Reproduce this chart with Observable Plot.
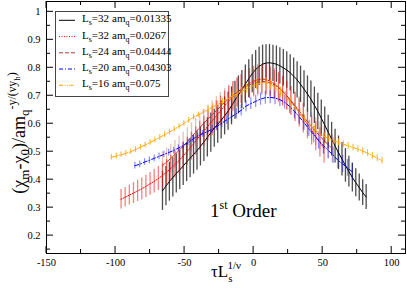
<!DOCTYPE html>
<html><head><meta charset="utf-8">
<script src="https://cdn.jsdelivr.net/npm/d3@7"></script>
<script src="https://cdn.jsdelivr.net/npm/@observablehq/plot@0.6"></script>
<style>body{margin:0;background:#fff}svg{display:block}svg text{font-family:"Liberation Serif",serif !important}</style>
</head><body><div id="chart"></div>
<script>
// ---- data ----
const blackX = [-66,-63.5,-61,-58.5,-56,-53.5,-51,-48.5,-46,-43.5,-41,-38.5,-36,-33.5,-31,-28.5,-26,-23.5,-21,-18.5,-16,-13.5,-11,-8.5,-6,-3.5,-1,1.5,4,6.5,9,11.5,14,16.5,19,21.5,24,26.5,29,31.5,34,36.5,39,41.5,44,46.5,49,51.5,54,56.5,59,61.5,64,66.5,69,71.5,74,76.5,79,81.5];
const blackY = [0.360,0.377,0.393,0.408,0.422,0.435,0.449,0.463,0.477,0.490,0.504,0.519,0.535,0.551,0.568,0.584,0.598,0.613,0.628,0.645,0.664,0.684,0.703,0.722,0.742,0.761,0.779,0.794,0.805,0.813,0.817,0.818,0.816,0.813,0.807,0.800,0.792,0.782,0.770,0.757,0.741,0.724,0.706,0.688,0.666,0.644,0.620,0.595,0.570,0.545,0.520,0.496,0.473,0.451,0.429,0.408,0.389,0.372,0.354,0.338];
const blackErr = [0.07,0.07,0.07,0.07,0.07,0.07,0.07,0.07,0.07,0.07,0.07,0.07,0.07,0.07,0.07,0.068,0.068,0.068,0.068,0.068,0.068,0.068,0.068,0.068,0.068,0.068,0.068,0.068,0.068,0.068,0.065,0.065,0.065,0.065,0.065,0.065,0.065,0.065,0.065,0.065,0.065,0.065,0.065,0.065,0.065,0.065,0.065,0.065,0.06,0.06,0.06,0.06,0.06,0.06,0.055,0.052,0.05,0.048,0.046,0.045];

const redX = [-96,-93,-90,-87,-84,-81,-78,-75,-72,-69,-66,-63,-60,-57,-54,-51,-48,-45,-42,-39,-36,-33,-30,-27,-24,-21,-18,-15,-12,-9,-6,-3,0,3,6,9,12,15,18,21,24,27,30,33,36,39,42,45,48,51];
const redY = [0.330,0.337,0.345,0.352,0.360,0.367,0.376,0.385,0.394,0.404,0.415,0.427,0.440,0.454,0.469,0.485,0.502,0.520,0.538,0.556,0.574,0.592,0.610,0.628,0.646,0.664,0.681,0.697,0.711,0.724,0.736,0.745,0.752,0.757,0.760,0.758,0.752,0.743,0.731,0.716,0.700,0.681,0.660,0.640,0.619,0.598,0.576,0.555,0.533,0.512];
const redErr = [0.035,0.035,0.036,0.037,0.038,0.039,0.04,0.041,0.042,0.043,0.044,0.045,0.046,0.047,0.048,0.049,0.05,0.05,0.051,0.052,0.053,0.053,0.053,0.053,0.053,0.053,0.053,0.053,0.053,0.053,0.053,0.053,0.053,0.053,0.053,0.053,0.053,0.053,0.053,0.053,0.052,0.052,0.052,0.052,0.052,0.052,0.052,0.052,0.052,0.052];

const brownX = [-66,-63,-60,-57,-54,-51,-48,-45,-42,-39,-36,-33,-30,-27,-24,-21,-18,-15,-12,-9,-6,-3,0,3,6,9,12,15,18,21,24,27,30,33,36,39,42,45,48,51,54,57];
const brownY = [0.450,0.463,0.476,0.490,0.505,0.520,0.536,0.553,0.570,0.586,0.602,0.617,0.632,0.647,0.662,0.676,0.689,0.701,0.712,0.722,0.731,0.739,0.745,0.749,0.751,0.750,0.746,0.739,0.729,0.716,0.700,0.683,0.665,0.646,0.627,0.607,0.589,0.572,0.556,0.540,0.525,0.511];
const brownErr = [0.05,0.05,0.05,0.05,0.05,0.05,0.05,0.05,0.05,0.05,0.05,0.05,0.05,0.05,0.05,0.05,0.05,0.05,0.05,0.05,0.05,0.05,0.05,0.05,0.05,0.05,0.05,0.05,0.05,0.05,0.05,0.05,0.05,0.05,0.05,0.05,0.05,0.05,0.05,0.05,0.05,0.05];

const blueX = [-86,-82.5,-79,-75.5,-72,-68.5,-65,-61.5,-58,-54.5,-51,-47.5,-44,-40.5,-37,-33.5,-30,-26.5,-23,-19.5,-16,-12.5,-9,-5.5,-2,1.5,5,8.5,12,15.5,19,22.5,26,29.5,33,36.5,40,43.5,47,50.5,54,57.5,61,64.5,68,71.5];
const blueY = [0.450,0.455,0.463,0.469,0.476,0.483,0.490,0.497,0.504,0.513,0.522,0.533,0.545,0.556,0.564,0.572,0.580,0.591,0.602,0.614,0.625,0.636,0.648,0.663,0.672,0.680,0.688,0.693,0.694,0.692,0.686,0.677,0.662,0.645,0.625,0.604,0.582,0.561,0.540,0.522,0.505,0.488,0.470,0.456,0.442,0.428];
const blueErr = [0.012,0.012,0.012,0.012,0.012,0.012,0.012,0.012,0.012,0.012,0.012,0.012,0.012,0.012,0.012,0.012,0.014,0.015,0.016,0.017,0.018,0.019,0.02,0.02,0.021,0.022,0.022,0.023,0.023,0.024,0.024,0.025,0.025,0.026,0.026,0.027,0.028,0.029,0.03,0.03,0.03,0.03,0.03,0.03,0.03,0.03];

const orangeX = [-103,-99.5,-96,-92.5,-89,-85.5,-82,-78.5,-75,-71.5,-68,-64.5,-61,-57.5,-54,-50.5,-47,-43.5,-40,-36.5,-33,-29.5,-26,-22.5,-19,-15.5,-12,-8.5,-5,-1.5,2,5.5,9,12.5,16,19.5,23,26.5,30,33.5,37,40.5,44,47.5,51,54.5,58,61.5,65,68.5,72,75.5,79,82.5,86,89.5,93];
const orangeY = [0.480,0.484,0.489,0.494,0.500,0.508,0.516,0.524,0.533,0.542,0.551,0.561,0.570,0.580,0.590,0.601,0.612,0.623,0.632,0.641,0.650,0.660,0.669,0.678,0.688,0.698,0.707,0.716,0.725,0.733,0.740,0.746,0.747,0.741,0.728,0.713,0.696,0.678,0.659,0.638,0.617,0.598,0.580,0.566,0.555,0.546,0.539,0.533,0.527,0.521,0.515,0.509,0.502,0.495,0.486,0.477,0.468];
const orangeErr = [0.01,0.01,0.01,0.01,0.01,0.01,0.01,0.01,0.01,0.01,0.01,0.01,0.01,0.01,0.01,0.01,0.01,0.01,0.01,0.01,0.012,0.012,0.013,0.013,0.014,0.014,0.015,0.015,0.016,0.017,0.018,0.018,0.018,0.018,0.018,0.018,0.018,0.016,0.015,0.015,0.015,0.015,0.015,0.014,0.014,0.013,0.012,0.012,0.012,0.012,0.012,0.012,0.012,0.012,0.012,0.012,0.012];

const seriesLs = ["32","32","24","20","16"];
const seriesAmq = ["0.01335","0.0267","0.04444","0.04303","0.075"];

const xTicks = [-150,-100,-50,0,50,100];
const xMinor = [-125,-75,-25,25,75];
const yTicks = [0.2,0.3,0.4,0.5,0.6,0.7,0.8,0.9,1];
const yMinor = [0.15,0.25,0.35,0.45,0.55,0.65,0.75,0.85,0.95];

// ---- styles ----
const styles = [
  {line:"#000000", bar:"#000000", barOp:0.7, barW:1.3, dash:null},
  {line:"#ff0000", bar:"#ff0000", barOp:0.5, barW:1.3, dash:"1,1.5"},
  {line:"#b03a3a", bar:"#a52a2a", barOp:0.3, barW:1.3, dash:"4,2"},
  {line:"#0000ff", bar:"#0000ff", barOp:0.45, barW:1.2, dash:"4,2,1,2"},
  {line:"#ffa500", bar:"#ffa500", barOp:0.8, barW:1.1, dash:"4,1.5,1,1.5,1,1.5"}
];

const raw = [[blackX,blackY,blackErr],[redX,redY,redErr],[brownX,brownY,brownErr],[blueX,blueY,blueErr],[orangeX,orangeY,orangeErr]];
const tables = raw.map(([xs,ys,es]) => xs.map((x,i)=>({x, y:ys[i], lo:ys[i]-es[i], hi:ys[i]+es[i]})));

const FONT = "Liberation Serif";
const marks = [];
tables.forEach((t,i)=>{
  const s = styles[i];
  marks.push(Plot.ruleX(t,{x:"x",y1:"lo",y2:"hi",stroke:s.bar,strokeOpacity:s.barOp,strokeWidth:s.barW}));
  marks.push(Plot.line(t,{x:"x",y:"y",stroke:s.line,strokeWidth:1,strokeDasharray:s.dash}));
});
marks.push(Plot.frame({stroke:"#000"}));
marks.push(Plot.axisX(xTicks,{tickSize:0,tickPadding:5,tickFormat:d=>String(d),label:null,fontSize:10.5,fontFamily:FONT}));
marks.push(Plot.axisY(yTicks,{tickSize:0,tickPadding:6,tickFormat:d=>String(d),label:null,fontSize:10.5,fontFamily:FONT}));

const plot = Plot.plot({
  width:407, height:291,
  marginLeft:46, marginRight:2, marginTop:1, marginBottom:38,
  style:{fontFamily:FONT, background:"#fff", color:"#000"},
  x:{domain:[-150,110]},
  y:{domain:[0.136,1.037]},
  marks
});
document.getElementById("chart").append(plot);

const svg = d3.select(plot);
const sx = v => plot.scale("x").apply(v);
const sy = v => plot.scale("y").apply(v);
const L = 46, R = 405, T = 1, B = 253;
const tk = svg.append("g").attr("stroke","#000").attr("stroke-width",1);
function tickX(v,len){ const p=sx(v); tk.append("line").attr("x1",p).attr("x2",p).attr("y1",B).attr("y2",B-len); tk.append("line").attr("x1",p).attr("x2",p).attr("y1",T).attr("y2",T+len); }
function tickY(v,len){ const p=sy(v); tk.append("line").attr("y1",p).attr("y2",p).attr("x1",L).attr("x2",L+len); tk.append("line").attr("y1",p).attr("y2",p).attr("x1",R).attr("x2",R-len); }
xTicks.forEach(v=>tickX(v,7)); xMinor.forEach(v=>tickX(v,4));
yTicks.forEach(v=>tickY(v,7)); yMinor.forEach(v=>tickY(v,4));

// rich text helper: parts = [text, shift(px, + is down), size, dx]
function rich(g, parts, x, y, size, anchor, transform){
  const t = g.append("text").attr("x",x).attr("y",y).attr("font-family",FONT).attr("font-size",size).attr("text-anchor",anchor||"start").attr("fill","#000");
  if (transform) t.attr("transform",transform);
  let cur = 0;
  parts.forEach(([txt,shift,fs,dx])=>{
    const sp = t.append("tspan").attr("dy",shift-cur).attr("font-size",fs||size).text(txt);
    if (dx) sp.attr("dx",dx);
    cur = shift;
  });
  return t;
}

// x label
rich(svg, [["τL",0],["s",5,11],["1/ν",-8,11,-5]], 226, 277, 17, "middle");
// y label
rich(svg, [["(χ",0],["m",4,13],["-χ",0],["0",4,13],[")/am",0],["q",4,13],["-y/(νy",-9,12],["h",-5,9],[")",-9,12]], 0, 0, 18, "middle", "translate(25,133) rotate(-90)");
// annotation
rich(svg, [["1",0],["st",-8,12],[" Order",0,19]], 210, 217, 19, "start");

// legend
const lg = svg.append("g");
lg.append("rect").attr("x",55.5).attr("y",11.5).attr("width",113).attr("height",85).attr("fill","#fff").attr("stroke","#444").attr("stroke-width",1);
const rowY = [22.3,38.6,54.8,71,87.3];
seriesLs.forEach((ls,i)=>{
  const yb = rowY[i];
  lg.append("line").attr("x1",59).attr("x2",75).attr("y1",yb-2).attr("y2",yb-2).attr("stroke",styles[i].line).attr("stroke-width",1).attr("stroke-dasharray",styles[i].dash);
  rich(lg, [["L",0],["s",3,8],["="+ls,0]], 82, yb, 11);
  rich(lg, [["am",0],["q",3,8],["="+seriesAmq[i],0]], 112, yb, 11);
});
</script></body></html>
